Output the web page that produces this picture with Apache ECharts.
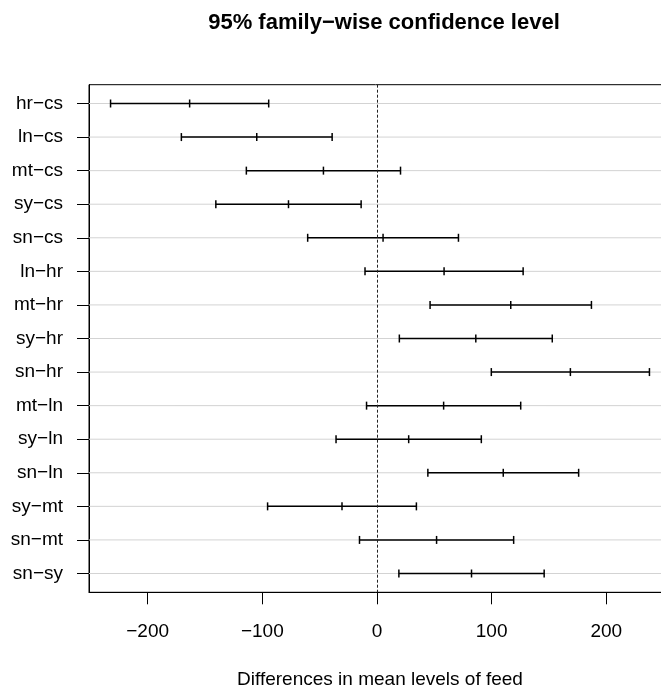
<!DOCTYPE html>
<html>
<head>
<meta charset="utf-8">
<script src="https://cdn.jsdelivr.net/npm/echarts@6/dist/echarts.min.js"></script>
<style>
  html, body { margin: 0; padding: 0; background: #fff; }
  #chart { width: 661px; height: 692px; }
</style>
</head>
<body>
<div id="chart"></div>
<script>
// 比较组 (Tukey HSD, chickwts)
var comparisons = ['hr−cs', 'ln−cs', 'mt−cs', 'sy−cs', 'sn−cs', 'ln−hr', 'mt−hr', 'sy−hr',
  'sn−hr', 'mt−ln', 'sy−ln', 'sn−ln', 'sy−mt', 'sn−mt', 'sn−sy'];
var diffVals = [-163.38, -104.83, -46.67, -77.15, 5.33, 58.55, 116.71, 86.23,
  168.72, 58.16, 27.68, 110.17, -30.48, 52.01, 82.49];
var lwrVals = [-232.35, -170.59, -113.91, -140.52, -60.42, -10.41, 46.34, 19.54,
  99.75, -9.07, -35.68, 44.41, -95.38, -15.22, 19.13];
var uprVals = [-94.42, -39.08, 20.56, -13.79, 71.09, 127.51, 187.08, 152.92,
  237.68, 125.39, 91.04, 175.92, 34.41, 119.24, 145.85];
var xTicks = [-200, -100, 0, 100, 200];

var font = 'Liberation Sans, Arial, Helvetica, sans-serif';
var rowPos = comparisons.map(function (c, i) { return i + 1; });

var barData = comparisons.map(function (c, i) {
  return [lwrVals[i], diffVals[i], uprVals[i], i + 1];
});
var gridData = rowPos.map(function (y) { return [0, y]; });

var myChart = echarts.init(document.getElementById('chart'), null, { renderer: 'canvas' });

var option = {
  backgroundColor: '#fff',
  animation: false,
  title: {
    text: '95% family−wise confidence level',
    left: 379,
    top: 7,
    textAlign: 'center',
    textStyle: { fontFamily: font, fontSize: 22, fontWeight: 'bold', color: '#000' }
  },
  grid: {
    left: 89, top: 84.7, height: 507.6, width: 582,
    outerBoundsMode: 'none',
    containLabel: false,
    show: true, borderColor: '#000', borderWidth: 1, backgroundColor: 'transparent'
  },
  xAxis: {
    type: 'value',
    min: -251.15,
    max: 256.48,
    name: 'Differences in mean levels of feed',
    nameLocation: 'middle',
    nameGap: 78,
    nameTextStyle: { fontFamily: font, fontSize: 19, color: '#000' },
    axisLine: { show: true, onZero: false, lineStyle: { color: '#000', width: 1 } },
    axisTick: { show: true, length: 12, lineStyle: { color: '#000' }, customValues: xTicks },
    axisLabel: {
      fontFamily: font, fontSize: 19, color: '#000', margin: 30,
      customValues: xTicks,
      formatter: function (v) { return v < 0 ? '−' + Math.abs(v) : String(v); }
    },
    splitLine: { show: false }
  },
  yAxis: {
    type: 'value',
    inverse: true,
    min: 0.44,
    max: 15.56,
    axisLine: { show: true, onZero: false, lineStyle: { color: '#000', width: 1 } },
    axisTick: { show: true, length: 12, lineStyle: { color: '#000' }, customValues: rowPos },
    axisLabel: {
      fontFamily: font, fontSize: 19, color: '#000', margin: 26,
      customValues: rowPos,
      formatter: function (v) { return comparisons[Math.round(v) - 1] || ''; }
    },
    splitLine: { show: false }
  },
  series: [
    {
      // 背景横线 + 零线
      type: 'custom',
      z: 1,
      silent: true,
      data: gridData,
      renderItem: function (params, api) {
        var cs = params.coordSys;
        var y = api.coord([0, api.value(1)])[1];
        return {
          type: 'line',
          shape: { x1: cs.x, y1: y, x2: cs.x + cs.width, y2: y },
          style: { stroke: '#d3d3d3', lineWidth: 1 }
        };
      },
      markLine: {
        silent: true,
        symbol: ['none', 'none'],
        label: { show: false },
        lineStyle: { color: '#222', width: 1, type: [3, 2] },
        data: [{ xAxis: 0 }]
      }
    },
    {
      // 置信区间
      type: 'custom',
      z: 3,
      silent: true,
      data: barData,
      encode: { x: [0, 1, 2], y: 3 },
      renderItem: function (params, api) {
        var yv = api.value(3);
        var pL = api.coord([api.value(0), yv]);
        var pM = api.coord([api.value(1), yv]);
        var pU = api.coord([api.value(2), yv]);
        var h = 4;
        var st = { stroke: '#000', lineWidth: 1.5 };
        return {
          type: 'group',
          children: [
            { type: 'line', shape: { x1: pL[0], y1: pL[1], x2: pU[0], y2: pU[1] }, style: st },
            { type: 'line', shape: { x1: pL[0], y1: pL[1] - h, x2: pL[0], y2: pL[1] + h }, style: st },
            { type: 'line', shape: { x1: pM[0], y1: pM[1] - h, x2: pM[0], y2: pM[1] + h }, style: st },
            { type: 'line', shape: { x1: pU[0], y1: pU[1] - h, x2: pU[0], y2: pU[1] + h }, style: st }
          ]
        };
      }
    }
  ]
};

myChart.setOption(option);
</script>
</body>
</html>
